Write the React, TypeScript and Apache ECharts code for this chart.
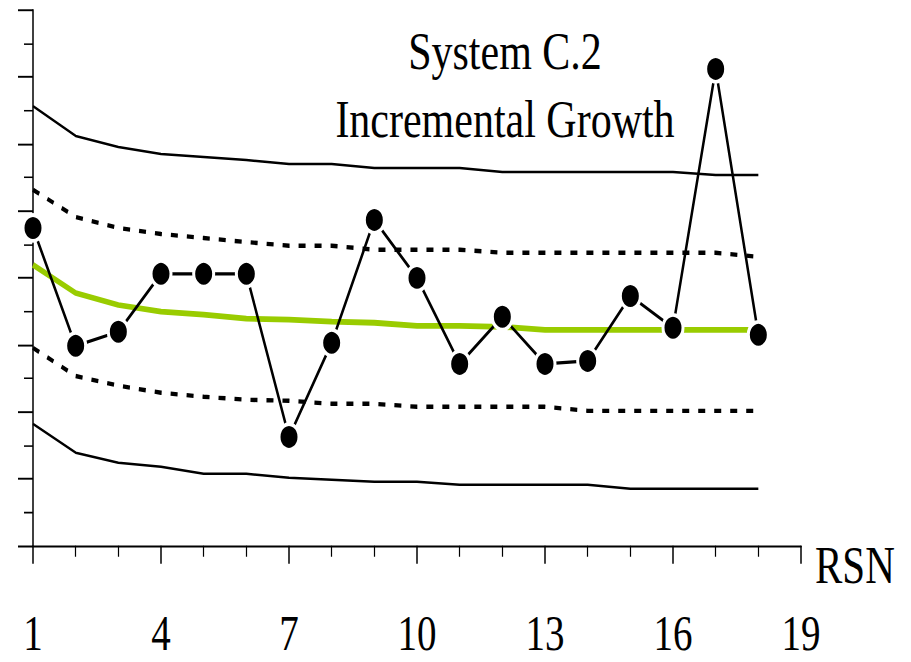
import React, { useEffect, useRef } from "react";
import * as echarts from "echarts";

// Run sequence numbers and the quantities plotted against them.
const RSN = [1, 2, 3, 4, 5, 6, 7, 8, 9, 10, 11, 12, 13, 14, 15, 16, 17, 18];
const OBSERVED = [9.49, 5.97, 6.39, 8.12, 8.12, 8.12, 3.25, 6.06, 9.73, 8.0, 5.43, 6.84, 5.43, 5.52, 7.46, 6.51, 14.24, 6.3];
const UPPER_LIMIT = [13.13, 12.24, 11.91, 11.7, 11.61, 11.52, 11.4, 11.4, 11.28, 11.28, 11.28, 11.16, 11.16, 11.16, 11.16, 11.16, 11.07, 11.07];
const UPPER_WARNING = [10.63, 9.82, 9.49, 9.31, 9.19, 9.07, 8.96, 8.96, 8.84, 8.84, 8.84, 8.75, 8.75, 8.75, 8.75, 8.75, 8.75, 8.63];
const CENTER = [8.39, 7.55, 7.19, 6.99, 6.9, 6.78, 6.75, 6.69, 6.66, 6.57, 6.57, 6.54, 6.45, 6.45, 6.45, 6.45, 6.45, 6.45];
const LOWER_WARNING = [5.91, 5.07, 4.78, 4.57, 4.45, 4.36, 4.33, 4.24, 4.24, 4.15, 4.15, 4.15, 4.15, 4.03, 4.03, 4.03, 4.03, 4.03];
const LOWER_LIMIT = [3.64, 2.78, 2.48, 2.36, 2.15, 2.15, 2.03, 1.97, 1.91, 1.91, 1.82, 1.82, 1.82, 1.82, 1.7, 1.7, 1.7, 1.7];

// The RSN axis runs 1..19 with a labelled tick every 3 runs.
const RSN_FIRST = 1;
const RSN_LAST = 19;
const RSN_LABEL_STEP = 3;

const TITLE_LINES = ["System C.2", "Incremental Growth"];
const X_NAME = "RSN";

// The chart is laid out on a shorter canvas and stretched vertically.
const STRETCH = 1.28;
const WIDTH = 911;
const HEIGHT = 662 / STRETCH;

const SERIF = "'Liberation Serif', 'Times New Roman', serif";

const pairs = (values: number[]) => RSN.map((r, i) => [r - RSN_FIRST, values[i]]);

export default function App() {
  const ref = useRef<HTMLDivElement>(null);

  useEffect(() => {
    if (!ref.current) return;
    const chart = echarts.init(ref.current, undefined, { renderer: "svg" });

    const limitLine = (name: string, values: number[], dashed: boolean) => ({
      name,
      type: "line",
      data: pairs(values),
      symbol: "none",
      silent: true,
      lineStyle: dashed
        ? { color: "#000", width: 3.4, type: [7, 9] }
        : { color: "#000", width: 2 },
      z: 2,
    });

    chart.setOption({
      animation: false,
      backgroundColor: "#fff",
      title: {
        text: TITLE_LINES.join("\n"),
        left: 500,
        top: 8,
        textAlign: "center",
        textStyle: {
          fontFamily: SERIF,
          fontSize: 42,
          fontWeight: "normal",
          color: "#000",
          lineHeight: 53,
        },
      },
      grid: {
        left: 33,
        right: WIDTH - 33 - 768,
        top: 10 / STRETCH,
        bottom: HEIGHT - 546 / STRETCH,
        containLabel: false,
      },
      xAxis: {
        type: "value",
        min: 0,
        max: RSN_LAST - RSN_FIRST,
        interval: RSN_LABEL_STEP,
        name: X_NAME,
        nameLocation: "end",
        nameGap: 14,
        nameTextStyle: {
          fontFamily: SERIF,
          fontSize: 41,
          color: "#000",
          verticalAlign: "top",
          lineHeight: 31,
        },
        axisLine: { show: true, lineStyle: { color: "#000", width: 1.5 } },
        axisTick: { show: true, inside: false, length: 14, lineStyle: { color: "#000", width: 1.5 } },
        minorTick: { show: true, splitNumber: RSN_LABEL_STEP, length: 8.6, lineStyle: { color: "#000", width: 1.2 } },
        splitLine: { show: false },
        minorSplitLine: { show: false },
        axisLabel: {
          formatter: (v: number) => String(v + RSN_FIRST),
          fontFamily: SERIF,
          fontSize: 39,
          color: "#000",
          margin: 49,
        },
      },
      yAxis: {
        type: "value",
        min: 0,
        max: 16,
        interval: 2,
        axisLine: { show: true, lineStyle: { color: "#000", width: 1.5 } },
        axisTick: { show: true, inside: false, length: 15, lineStyle: { color: "#000", width: 1.5 } },
        minorTick: { show: true, splitNumber: 2, length: 9, lineStyle: { color: "#000", width: 1.2 } },
        splitLine: { show: false },
        minorSplitLine: { show: false },
        axisLabel: { show: false },
      },
      series: [
        limitLine("Upper limit", UPPER_LIMIT, false),
        limitLine("Upper warning", UPPER_WARNING, true),
        {
          name: "Centre line",
          type: "line",
          data: pairs(CENTER),
          symbol: "none",
          silent: true,
          lineStyle: { color: "#99cc00", width: 4.5 },
          z: 3,
        },
        limitLine("Lower warning", LOWER_WARNING, true),
        limitLine("Lower limit", LOWER_LIMIT, false),
        {
          name: "Observed",
          type: "line",
          data: pairs(OBSERVED),
          symbol: "circle",
          symbolSize: 20,
          showAllSymbol: true,
          lineStyle: { color: "#000", width: 2.5 },
          itemStyle: { color: "#000", borderColor: "#fff", borderWidth: 3 },
          z: 5,
        },
      ],
    });

    return () => chart.dispose();
  }, []);

  return (
    <div
      style={{
        position: "absolute",
        left: 0,
        top: 0,
        width: WIDTH,
        height: 662,
        overflow: "hidden",
        background: "#fff",
      }}
    >
      <div
        ref={ref}
        style={{
          width: WIDTH,
          height: HEIGHT,
          transform: `scaleY(${STRETCH})`,
          transformOrigin: "0 0",
        }}
      />
    </div>
  );
}
